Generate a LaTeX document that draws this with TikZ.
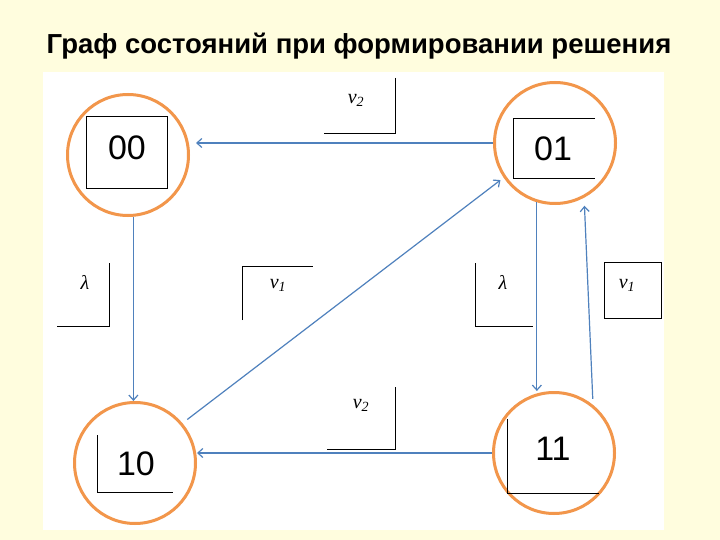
\documentclass[tikz,border=0pt]{standalone}
\usepackage{fontspec}
\setmainfont{Liberation Sans}
\newfontfamily\lblfont{Liberation Serif}
\usetikzlibrary{arrows.meta}
\definecolor{bgyellow}{RGB}{255,253,222}
\definecolor{ringorange}{RGB}{242,150,75}
\definecolor{arrowblue}{RGB}{79,129,189}
\begin{document}
\begin{tikzpicture}[x=1pt,y=-1pt,
  state/.style={circle, draw=ringorange, line width=3pt, minimum size=121pt, inner sep=0pt},
  digit/.style={font=\fontsize{34}{38}\selectfont},
  lbl/.style={font=\lblfont\itshape\fontsize{20}{22}\selectfont},
  arr/.style={draw=arrowblue, line width=1.2pt, -{Straight Barb[length=5pt,width=9pt]}},
  frame/.style={draw=black, line width=0.9pt},
  lframe/.style={draw=black, line width=0.8pt}]
\useasboundingbox (0,0) rectangle (720,540);
\fill[bgyellow] (0,0) rectangle (720,540);
\fill[white] (43,72) rectangle (664,530);
\node[font=\bfseries\fontsize{27.5}{30}\selectfont] (title) at (359,46) {Граф состояний при формировании решения};
% states
\node[state] (n00) at (128,155) {};
\node[state] (n01) at (555,143) {};
\node[state] (n10) at (135,463) {};
\node[state] (n11) at (554,453) {};
\node[digit] (t00) at (127,148) {00};
\node[digit] (t01) at (553,149) {01};
\node[digit] (t10) at (136,464) {10};
\node[digit] (t11) at (553,449) {11};
\draw[frame] (86,116) rectangle (167,188);
\draw[frame] (595,118) -- (513,118) -- (513,178) -- (595,178);
\draw[frame] (97,435) -- (97,492) -- (173,492);
\draw[frame] (507,419) -- (507,493) -- (599,493);
% labels
\node[lbl] (l1) at (356,100) {v\textsubscript{2}};
\draw[lframe] (395,78) -- (395,133) -- (324,133);
\node[lbl] (l2) at (85,282) {λ};
\draw[lframe] (109,263) -- (109,326) -- (57,326);
\node[lbl] (l3) at (278,285) {v\textsubscript{1}};
\draw[lframe] (242,320) -- (242,266) -- (313,266);
\node[lbl] (l4) at (503,282) {λ};
\draw[lframe] (475,263) -- (475,326) -- (533,326);
\node[lbl] (l5) at (627,285) {v\textsubscript{1}};
\draw[lframe] (604,262) rectangle (661,318);
\node[lbl] (l6) at (361,405) {v\textsubscript{2}};
\draw[lframe] (395,387) -- (395,449) -- (327,449);
% arrows
\draw[arr, shorten >=6pt] (n01.west) -- (n01.west -| n00.east);
\draw[arr] (n00.-85) -- (n00.-85 |- n10.north);
\draw[arr, shorten <=6pt, shorten >=4pt] (n10.40) -- (n01.214);
\draw[arr] (n01.-107) -- (n01.-107 |- n11.north);
\draw[arr, shorten <=6pt, shorten >=8pt] (n11.51) -- (n01.-62);
\draw[arr] (n11.west) -- (n11.west -| n10.east);
\end{tikzpicture}
\end{document}
